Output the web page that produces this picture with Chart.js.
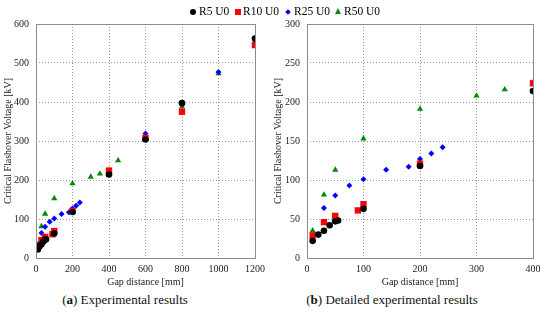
<!DOCTYPE html>
<html lang="en">
<head>
<meta charset="UTF-8">
<title>Critical flashover voltage vs gap distance</title>
<script src="https://cdn.jsdelivr.net/npm/chart.js"></script>
<style>
  body {
    margin: 0;
    width: 550px;
    height: 320px;
    background: #fff;
    position: relative;
    overflow: hidden;
    font-family: "Times New Roman", Times, serif;
  }
  #boxA { position: absolute; left: 0; top: 0; }
  #boxB { position: absolute; left: 270px; top: 0; }
  .leg { position: absolute; top: 5px; font-size: 11.5px; line-height: 13px; color: #000; white-space: nowrap; }
  .mk { position: absolute; }
  .caption {
    position: absolute;
    top: 292px;
    font-size: 13px;
    color: #111;
    white-space: nowrap;
    transform: translateX(-50%);
  }
</style>
</head>
<body>
<div id="boxA"><canvas id="chartA" width="270" height="290"></canvas></div>
<div id="boxB"><canvas id="chartB" width="280" height="290"></canvas></div>

<!-- shared legend -->
<div class="mk" style="left:190px;top:9px;width:6px;height:6px;border-radius:50%;background:#000"></div>
<div class="leg" style="left:199px">R5 U0</div>
<div class="mk" style="left:235px;top:9px;width:6px;height:6px;background:#f00"></div>
<div class="leg" style="left:243px">R10 U0</div>
<div class="mk" style="left:286px;top:10px;width:4px;height:4px;background:#00f;transform:rotate(45deg)"></div>
<div class="leg" style="left:294px">R25 U0</div>
<div class="mk" style="left:335px;top:8px;width:0;height:0;border-left:3.5px solid transparent;border-right:3.5px solid transparent;border-bottom:6px solid #080"></div>
<div class="leg" style="left:344px">R50 U0</div>

<div class="caption" style="left:125px">(<b>a</b>) Experimental results</div>
<div class="caption" style="left:392px">(<b>b</b>) Detailed experimental results</div>

<script>
  // gap distance [mm] and critical flashover voltage [kV] per series
  const r5Gap  = [10, 20, 30, 40, 50, 55, 100, 200, 400, 600, 800, 1200];
  const r5Volt = [22, 30, 35, 42, 47, 48, 63, 118, 214, 304, 397, 563];

  const r10Gap  = [10, 30, 50, 90, 100, 200, 400, 600, 800, 1200];
  const r10Volt = [29, 46, 54, 61, 69, 121, 224, 308, 375, 546];

  const r25Gap  = [30, 50, 75, 100, 140, 180, 200, 220, 240, 600, 1000, 1200];
  const r25Volt = [64, 80, 93, 101, 113, 117, 127, 134, 142, 319, 477, 550];

  const r50Gap  = [10, 30, 50, 100, 200, 300, 350, 400, 450, 600, 800, 1000, 1200];
  const r50Volt = [35, 81, 113, 153, 191, 208, 216, 225, 250, 307, 388, 473, 555];

  const seriesNames = ['R5 U0', 'R10 U0', 'R25 U0', 'R50 U0'];

  Chart.defaults.font.family = '"Times New Roman", Times, serif';
  const tickFont = { size: 10 };
  const titleFont = { size: 10 };

  function points(xs, ys, maxX) {
    const out = [];
    xs.forEach((x, i) => { if (x <= maxX) out.push({ x: x, y: ys[i] }); });
    return out;
  }

  function makeDatasets(maxX) {
    return [
      { label: seriesNames[0], data: points(r5Gap, r5Volt, maxX), pointStyle: 'circle', pointRadius: 3.3,
        backgroundColor: '#000', borderColor: '#000', borderWidth: 0 },
      { label: seriesNames[1], data: points(r10Gap, r10Volt, maxX), pointStyle: 'rect', pointRadius: 4.5,
        backgroundColor: '#f00', borderColor: '#f00', borderWidth: 0 },
      { label: seriesNames[2], data: points(r25Gap, r25Volt, maxX), pointStyle: 'rectRot', pointRadius: 3,
        backgroundColor: '#00f', borderColor: '#00f', borderWidth: 0 },
      { label: seriesNames[3], data: points(r50Gap, r50Volt, maxX), pointStyle: 'triangle', pointRadius: 3.6,
        backgroundColor: '#080', borderColor: '#080', borderWidth: 0 }
    ];
  }

  // draws the grey frame around the plot area
  const frame = {
    id: 'frame',
    afterDraw(chart) {
      const a = chart.chartArea, ctx = chart.ctx;
      ctx.save();
      ctx.strokeStyle = '#8c8c8c';
      ctx.lineWidth = 1;
      ctx.strokeRect(Math.round(a.left) + 0.5, Math.round(a.top) + 0.5,
                     Math.round(a.right - a.left), Math.round(a.bottom - a.top));
      ctx.restore();
    }
  };

  function makeChart(id, xMax, xStep, yMax, yStep, yWidth, padRight) {
    return new Chart(document.getElementById(id), {
      type: 'scatter',
      data: { datasets: makeDatasets(xMax) },
      plugins: [frame],
      options: {
        responsive: false,
        animation: false,
        layout: { padding: { top: 24, right: padRight, left: 0, bottom: 0 } },
        plugins: { legend: { display: false }, tooltip: { enabled: false } },
        scales: {
          x: {
            min: 0, max: xMax,
            ticks: { stepSize: xStep, font: tickFont, color: '#222', padding: 5, callback: v => String(v) },
            grid: { color: '#9a9a9a', drawTicks: false },
            border: { display: false, dash: [1, 2] },
            title: { display: true, text: 'Gap distance [mm]', font: titleFont, color: '#222', padding: { top: 2, bottom: 2 } },
            afterFit(scale) { scale.height = 32; }
          },
          y: {
            min: 0, max: yMax,
            ticks: { stepSize: yStep, font: tickFont, color: '#222', padding: 7, callback: v => String(v) },
            grid: { color: '#9a9a9a', drawTicks: false },
            border: { display: false, dash: [1, 2] },
            title: { display: true, text: 'Critical Flashover Voltage [kV]', font: titleFont, color: '#222', padding: { top: 2, bottom: 2 } },
            afterFit(scale) { scale.width = yWidth; }
          }
        }
      }
    });
  }

  makeChart('chartA', 1200, 200, 600, 100, 36, 11);
  makeChart('chartB', 400, 100, 300, 50, 37, 17);
</script>
</body>
</html>
